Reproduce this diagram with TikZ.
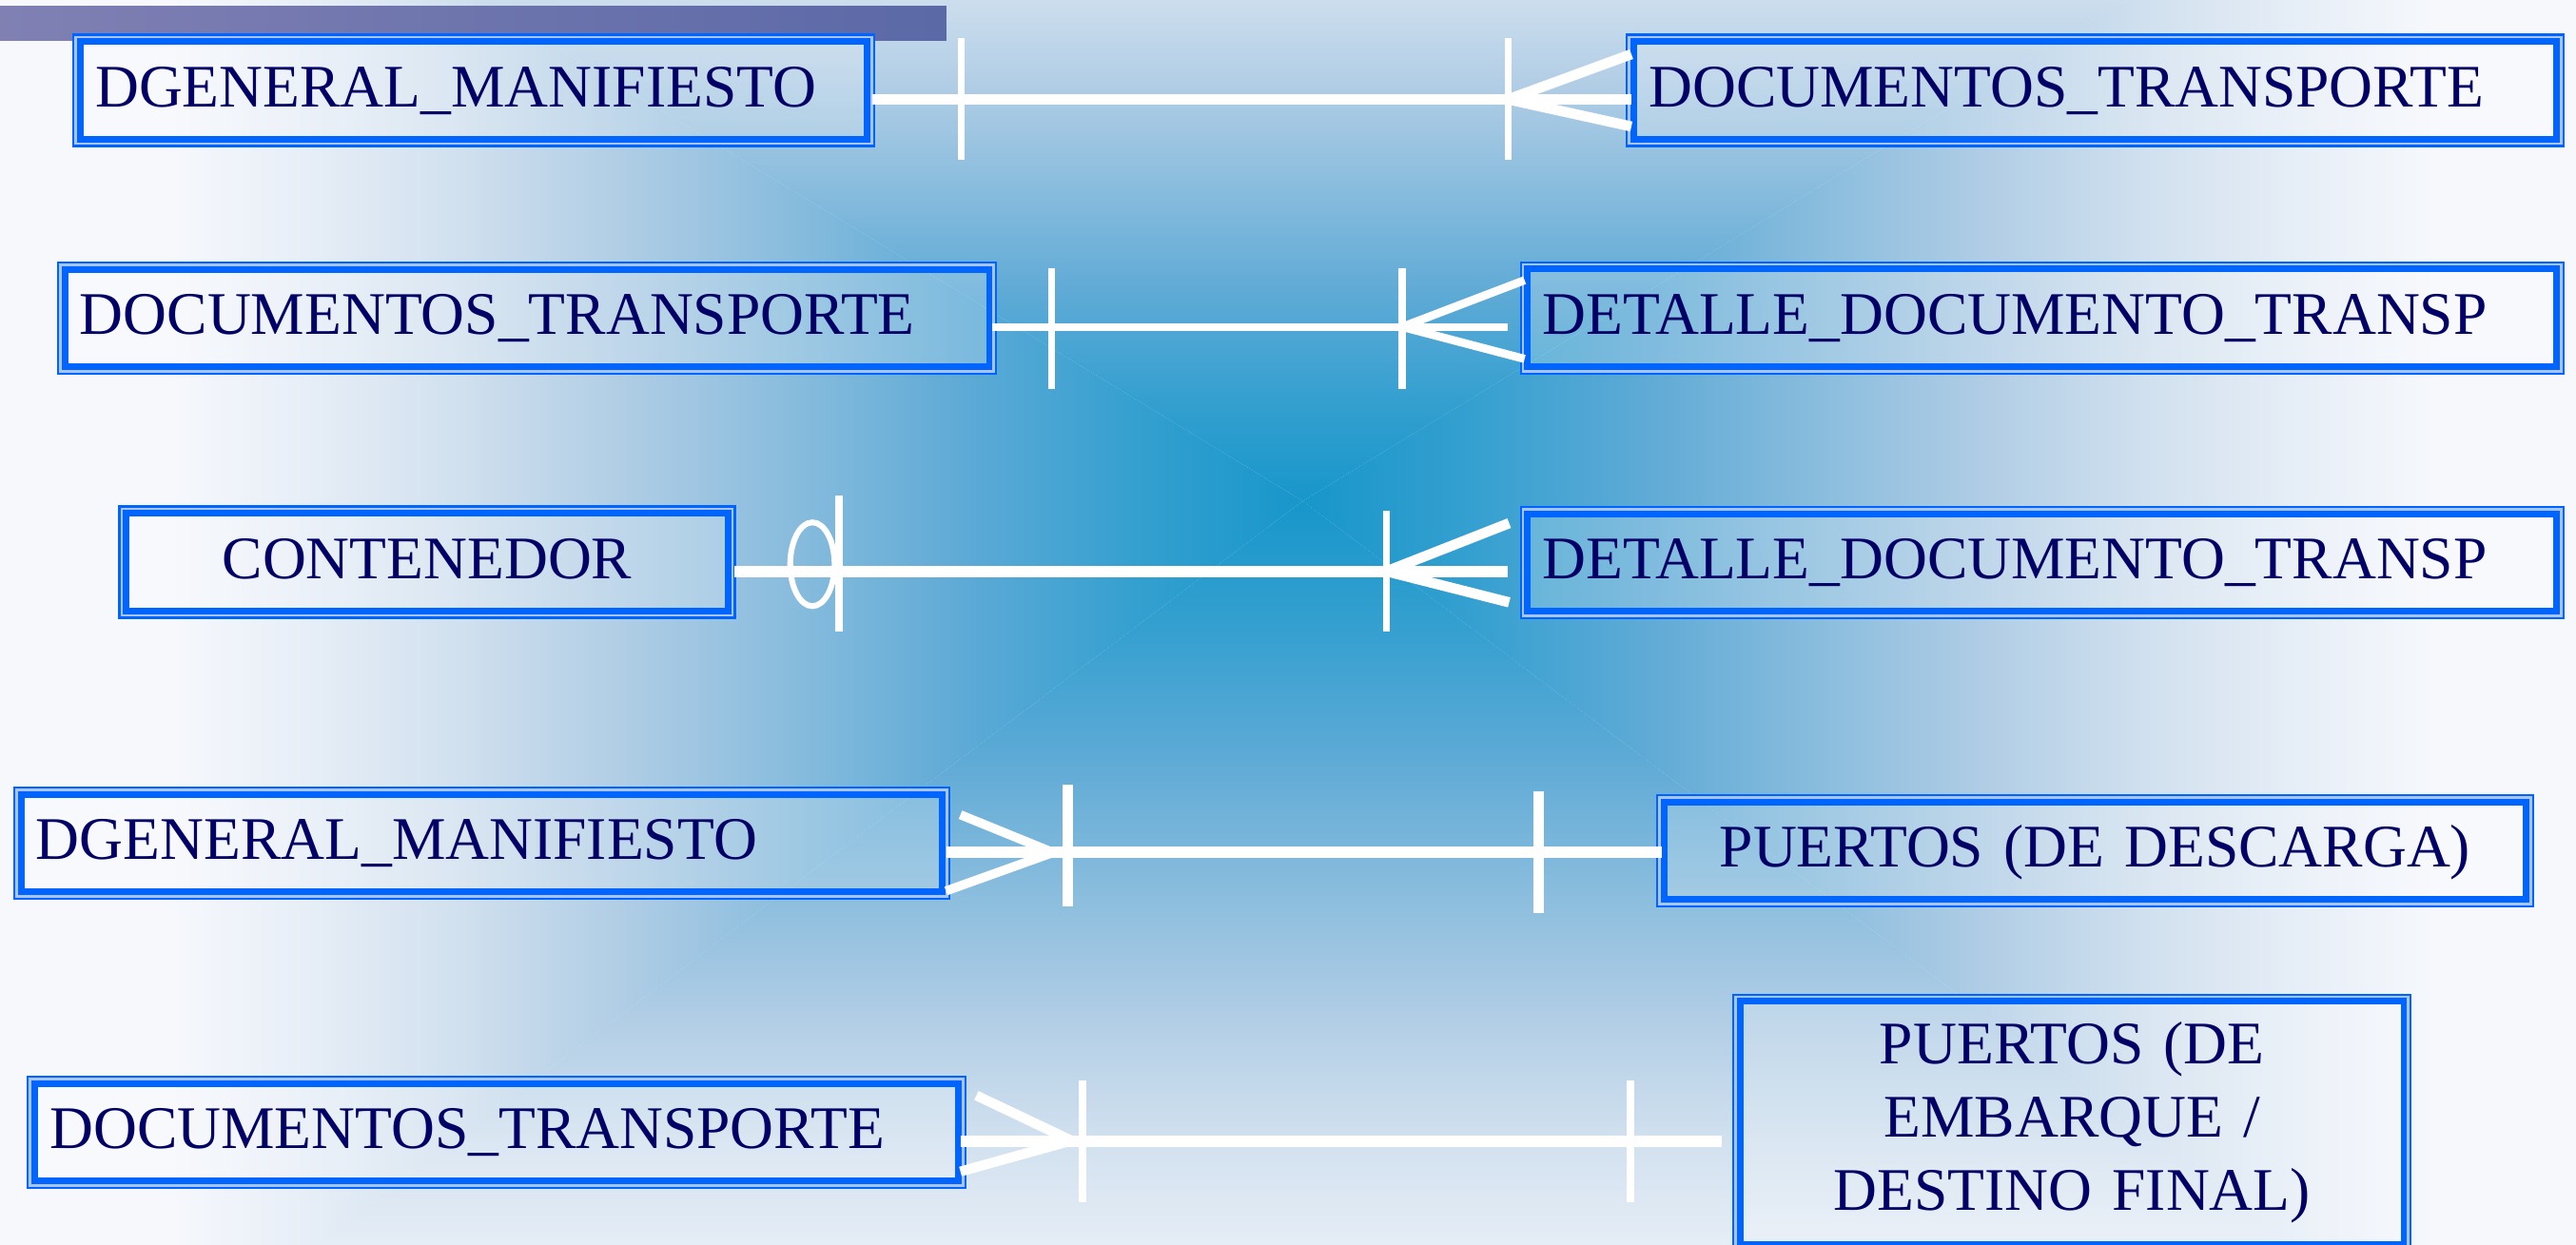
\documentclass[tikz,border=0pt]{standalone}
\usepackage{fontspec}
\setmainfont{Liberation Serif}
\definecolor{g0}{HTML}{1896CA}
\definecolor{g1}{HTML}{35A0D0}
\definecolor{g2}{HTML}{5EAAD6}
\definecolor{g3}{HTML}{88BCDD}
\definecolor{g4}{HTML}{B0CDE5}
\definecolor{g5}{HTML}{D2E1EF}
\definecolor{g6}{HTML}{EAF0F8}
\definecolor{g7}{HTML}{F6F8FC}
\definecolor{txt}{HTML}{000066}
\definecolor{bdblue}{HTML}{0064FF}
\definecolor{bdlight}{HTML}{A8C4FA}
\definecolor{barA}{HTML}{8080B3}
\definecolor{barB}{HTML}{5B69A7}
\begin{document}
\begin{tikzpicture}[x=1pt,y=-1pt,
  ebox/.style={rectangle, inner sep=0pt, outer sep=0pt, fill=white, fill opacity=0.2, text opacity=1, text=txt, font=\fontsize{36.8pt}{44.6pt}\selectfont, minimum height=69pt},
  lbox/.style={ebox, inner xsep=14pt, align=left, text height=28pt, text depth=8pt},
  cbox/.style={ebox, inner xsep=14pt, align=center, text height=28pt, text depth=8pt},
  rel/.style={draw=white, line width=6.8pt},
  tickmark/.style={draw=white, line width=4.4pt},
  prong/.style={draw=white, line width=6.2pt},
  ring/.style={draw=white, line width=3.5pt}
]
\useasboundingbox (0,0) rectangle (1568,757.9);
\clip (0,0) rectangle (1568,757.9);
% background
\fill[g7] (-5,-5) rectangle (1575,765);
\def\seglist{0/0.15/g0/g1, 0.15/0.3/g1/g2, 0.3/0.45/g2/g3, 0.45/0.6/g3/g4, 0.6/0.75/g4/g5, 0.75/0.9/g5/g6, 0.9/1/g6/g7}
\begin{scope}
  \clip (793,305) -- (103,-115) -- (103,825) -- cycle;
  \foreach \ta/\tb/\ca/\cb in \seglist {
    \shade[left color=\cb, right color=\ca] ({793-\tb*690-0.5},-120) rectangle ({793-\ta*690},830);
  }
\end{scope}
\begin{scope}
  \clip (793,305) -- (1483,-115) -- (1483,825) -- cycle;
  \foreach \ta/\tb/\ca/\cb in \seglist {
    \shade[left color=\ca, right color=\cb] ({793+\ta*690},-120) rectangle ({793+\tb*690+0.5},830);
  }
\end{scope}
\begin{scope}
  \clip (793,305) -- (103,-115) -- (1483,-115) -- cycle;
  \foreach \ta/\tb/\ca/\cb in \seglist {
    \shade[top color=\cb, bottom color=\ca] (100,{305-\tb*420-0.5}) rectangle (1490,{305-\ta*420});
  }
\end{scope}
\begin{scope}
  \clip (793,305) -- (103,825) -- (1483,825) -- cycle;
  \foreach \ta/\tb/\ca/\cb in \seglist {
    \shade[top color=\ca, bottom color=\cb] (100,{305+\ta*520}) rectangle (1490,{305+\tb*520+0.5});
  }
\end{scope}
% top bar
\shade[left color=barA, right color=barB] (0,3.9) rectangle (576,24.7);
% entity boxes
\node[lbox, minimum width=488.6pt, text width=460.6pt] (A1) at (288.3,55) {DGENERAL\_MANIFIESTO};
\node[lbox, minimum width=571.4pt, text width=543.4pt] (B1) at (1275.3,55) {DOCUMENTOS\_TRANSPORTE};
\node[lbox, minimum width=572.4pt, text width=544.4pt] (A2) at (320.8,193.75) {DOCUMENTOS\_TRANSPORTE};
\node[lbox, minimum width=636pt, text width=608pt] (B2) at (1243,193.5) {DETALLE\_DOCUMENTO\_TRANSP};
\node[cbox, minimum width=376pt, text width=348pt] (A3) at (260,342.15) {CONTENEDOR};
\node[lbox, minimum width=636pt, text width=608pt] (B3) at (1243,342.4) {DETALLE\_DOCUMENTO\_TRANSP};
\node[lbox, minimum width=570.5pt, text width=542.5pt] (A4) at (293.25,513.25) {DGENERAL\_MANIFIESTO};
\node[cbox, minimum width=534.5pt, text width=506.5pt] (B4) at (1275.25,518) {PUERTOS (DE DESCARGA)};
\node[lbox, minimum width=571.9pt, text width=543.9pt] (A5) at (302.25,689.35) {DOCUMENTOS\_TRANSPORTE};
\node[ebox, inner xsep=14pt, align=center, minimum width=413.5pt, text width=385.5pt, minimum height=157.5pt] (B5) at (1261.25,683.6) {PUERTOS (DE\\EMBARQUE /\\DESTINO FINAL)};
\foreach \n in {A1,B1,A2,B2,A3,B3,A4,B4,A5,B5}{
  \draw[bdblue, line width=4pt] ([shift={(4.8,4.8)}]\n.north west) rectangle ([shift={(-4.8,-4.8)}]\n.south east);
  \draw[bdblue, line width=1.3pt] ([shift={(0.65,0.65)}]\n.north west) rectangle ([shift={(-0.65,-0.65)}]\n.south east);
  \draw[bdlight, line width=1.5pt] ([shift={(2.05,2.05)}]\n.north west) rectangle ([shift={(-2.05,-2.05)}]\n.south east);
}
% relationship 1
\coordinate (r1a) at ([shift={(-1.6,5.5)}]A1.east);
\path (B1.west |- r1a) ++(3.4,0) coordinate (r1b);
\draw[rel] (r1a) -- (r1b);
\draw[tickmark] (585,23) -- (585,97);
\draw[tickmark] (918,23) -- (918,97);
\draw[prong] (918,60.5) -- (993,33);
\draw[prong] (918,60.5) -- (993,77);
% relationship 2
\coordinate (r2a) at ([shift={(-3,5.25)}]A2.east);
\path (B2.west |- r2a) ++(-7,0) coordinate (r2b);
\draw[rel, line width=4.8pt] (r2a) -- (r2b);
\draw[tickmark] (640,163) -- (640,237);
\draw[tickmark] (853.6,163) -- (853.6,237);
\draw[prong, line width=5pt] (853.6,199) -- (928,170.6);
\draw[prong, line width=5pt] (853.6,199) -- (928,218.5);
% relationship 3
\coordinate (r3a) at ([shift={(-1,5.65)}]A3.east);
\path (B3.west |- r3a) ++(-7,0) coordinate (r3b);
\draw[rel] (r3a) -- (r3b);
\draw[ring] (494.5,343.5) ellipse [x radius=13.5, y radius=25.5];
\draw[tickmark] (510.7,301.7) -- (510.7,384.6);
\draw[tickmark] (844,311) -- (844,384.6);
\draw[prong] (844,347.8) -- (918.6,318.5);
\draw[prong] (844,347.8) -- (918.6,366.7);
% relationship 4
\coordinate (r4a) at ([shift={(-2.5,5.35)}]A4.east);
\path (B4.west |- r4a) ++(3.6,0) coordinate (r4b);
\draw[rel] (r4a) -- (r4b);
\draw[prong, line width=5.5pt] (584.6,496) -- (641,519);
\draw[prong, line width=5.5pt] (575.8,542.4) -- (641,519);
\draw[tickmark, line width=6.3pt] (649.7,477.7) -- (649.7,551.6);
\draw[tickmark, line width=6.3pt] (936.6,482) -- (936.6,556);
% relationship 5
\coordinate (r5a) at ([shift={(-3.6,5.45)}]A5.east);
\path (B5.west |- r5a) ++(-6.5,0) coordinate (r5b);
\draw[rel] (r5a) -- (r5b);
\draw[prong, line width=6pt] (594.3,666.9) -- (652.2,694.4);
\draw[prong, line width=6pt] (584.6,713.2) -- (652.2,694.4);
\draw[tickmark] (658.9,657.8) -- (658.9,731.9);
\draw[tickmark] (992.4,657.8) -- (992.4,731.9);
\end{tikzpicture}
\end{document}
